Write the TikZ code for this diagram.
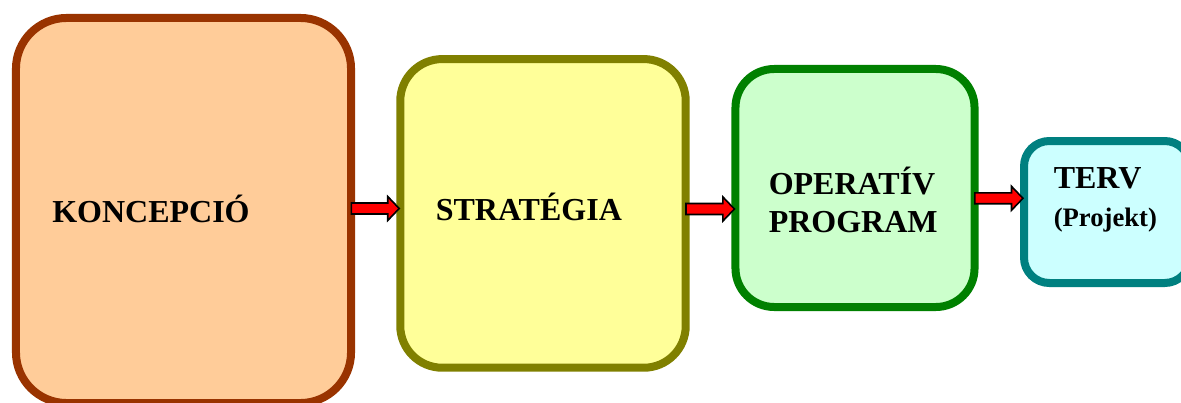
\documentclass[tikz,border=0pt]{standalone}
\usepackage{fontspec}
\setmainfont{Liberation Serif}
\usepackage{xcolor}
\usetikzlibrary{calc}
\definecolor{peach}{HTML}{FFCC99}
\definecolor{rust}{HTML}{993300}
\definecolor{lemon}{HTML}{FFFF99}
\definecolor{olive}{HTML}{808000}
\definecolor{mint}{HTML}{CCFFCC}
\definecolor{leaf}{HTML}{008000}
\definecolor{ice}{HTML}{CCFFFF}
\definecolor{teal}{HTML}{008080}

\begin{document}
\begin{tikzpicture}[x=0.75pt,y=-0.75pt,%
% common options for the boxes:
block/.style = {draw, rounded corners=#1, line width=6pt, inner sep=0},
% common options for the texts:
word/.style = {anchor=base west, inner sep=0, align=left,
            font=\bfseries\fontsize{24}{28.3}\selectfont},
% common options for the arrows:
flow/.style = {draw=black, fill=red, line width=1.2pt}]
\useasboundingbox (0,0) rectangle (1181,403);
\node[block=38pt,draw=rust,fill=peach,minimum width=251.3pt,minimum height=288.8pt] (B1) at (183.5,210.5) {};
\node[block=31.5pt,draw=olive,fill=lemon,minimum width=214.1pt,minimum height=231.5pt] (B2) at (543,213.4) {};
\node[block=29pt,draw=leaf,fill=mint,minimum width=179.3pt,minimum height=178.5pt] (B3) at (855,188) {};
\node[block=19pt,draw=teal,fill=ice,minimum width=124.5pt,minimum height=106.5pt] (B4) at (1107,212) {};
\node[word] (L1) at (52,222.7) {KONCEPCIÓ};
\node[word] (L2) at (435.5,220.7) {STRATÉGIA};
\node[word] (L3) at (768.5,232.7) {OPERATÍV\\PROGRAM};
\node[word] (L4) at (1053.5,188.3) {TERV};
\node[word,font=\bfseries\fontsize{20}{24}\selectfont] (L5) at (1053.5,226.7) {(Projekt)};
\draw[flow] let \p1=(B1.east), \p2=(B2.west), \p3=(0,208.5) in
  (\x1-2.8pt,\y3-4.1pt) -- (\x2-6.4pt,\y3-4.1pt) -- (\x2-6.4pt,\y3-9pt) -- (\x2+2.2pt,\y3)
  -- (\x2-6.4pt,\y3+9pt) -- (\x2-6.4pt,\y3+4.1pt) -- (\x1-2.8pt,\y3+4.1pt) -- cycle;
\draw[flow] let \p1=(B2.east), \p2=(B3.west), \p3=(0,209) in
  (\x1-2.8pt,\y3-4.1pt) -- (\x2-6.4pt,\y3-4.1pt) -- (\x2-6.4pt,\y3-9pt) -- (\x2+2.2pt,\y3)
  -- (\x2-6.4pt,\y3+9pt) -- (\x2-6.4pt,\y3+4.1pt) -- (\x1-2.8pt,\y3+4.1pt) -- cycle;
\draw[flow] let \p1=(B3.east), \p2=(B4.west), \p3=(0,198.3) in
  (\x1-2.8pt,\y3-4.1pt) -- (\x2-6.4pt,\y3-4.1pt) -- (\x2-6.4pt,\y3-9pt) -- (\x2+2.2pt,\y3)
  -- (\x2-6.4pt,\y3+9pt) -- (\x2-6.4pt,\y3+4.1pt) -- (\x1-2.8pt,\y3+4.1pt) -- cycle;
\end{tikzpicture}
\end{document}
